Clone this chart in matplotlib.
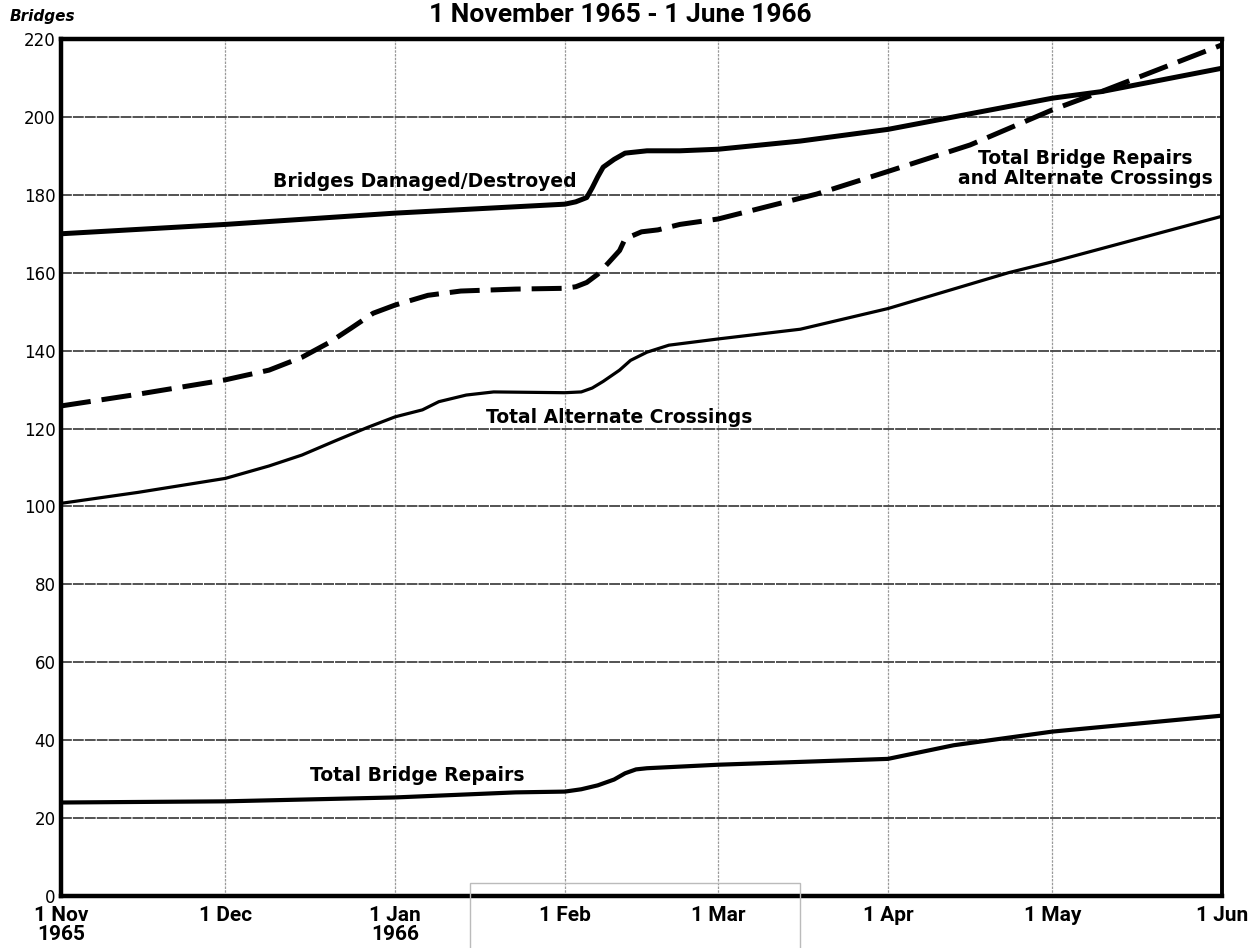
import matplotlib
matplotlib.use("Agg")
import matplotlib.pyplot as plt
from matplotlib.patches import Rectangle
import pandas as pd

# ---- data ----
damaged_dates = ["1965-11-01", "1965-12-01", "1966-01-01", "1966-02-01", "1966-02-03",
                 "1966-02-05", "1966-02-06", "1966-02-07", "1966-02-08", "1966-02-10",
                 "1966-02-12", "1966-02-16", "1966-02-22", "1966-03-01", "1966-03-16",
                 "1966-04-01", "1966-04-16", "1966-05-01", "1966-05-10", "1966-06-01"]
damaged_vals = [170, 172.4, 175.3, 177.6, 178.2, 179.3, 181.8, 184.6, 187.1, 189.1,
                190.7, 191.3, 191.3, 191.7, 193.8, 196.8, 200.8, 204.8, 206.5, 212.5]

combined_dates = ["1965-11-01", "1965-11-15", "1965-12-01", "1965-12-09", "1965-12-15",
                  "1965-12-20", "1965-12-24", "1965-12-28", "1966-01-01", "1966-01-07",
                  "1966-01-13", "1966-01-23", "1966-02-01", "1966-02-03", "1966-02-05",
                  "1966-02-07", "1966-02-09", "1966-02-11", "1966-02-12", "1966-02-15",
                  "1966-02-18", "1966-02-22", "1966-03-01", "1966-03-19", "1966-04-01",
                  "1966-04-16", "1966-05-01", "1966-05-10", "1966-06-01"]
combined_vals = [125.8, 128.8, 132.5, 135, 138.3, 142.1, 145.8, 149.6, 151.7, 154.2,
                 155.3, 155.8, 156, 156.4, 157.5, 159.6, 162.6, 165.7, 168.7, 170.5,
                 171, 172.4, 173.8, 180.2, 186, 192.8, 201.8, 206.5, 218.5]

crossings_dates = ["1965-11-01", "1965-11-15", "1965-12-01", "1965-12-09", "1965-12-15",
                   "1965-12-21", "1965-12-27", "1966-01-01", "1966-01-06", "1966-01-09",
                   "1966-01-14", "1966-01-19", "1966-02-01", "1966-02-04", "1966-02-06",
                   "1966-02-08", "1966-02-11", "1966-02-13", "1966-02-16", "1966-02-20",
                   "1966-03-01", "1966-03-16", "1966-04-01", "1966-04-23", "1966-05-01",
                   "1966-06-01"]
crossings_vals = [100.8, 103.6, 107.2, 110.4, 113.2, 116.8, 120.3, 123, 124.8, 126.9,
                  128.6, 129.4, 129.2, 129.4, 130.4, 132.1, 135, 137.5, 139.6, 141.4,
                  143, 145.5, 150.8, 160, 162.8, 174.5]

repairs_dates = ["1965-11-01", "1965-12-01", "1966-01-01", "1966-01-23", "1966-02-01",
                 "1966-02-04", "1966-02-07", "1966-02-10", "1966-02-12", "1966-02-14",
                 "1966-02-16", "1966-03-01", "1966-04-01", "1966-04-13", "1966-05-01",
                 "1966-06-01"]
repairs_vals = [24, 24.3, 25.3, 26.6, 26.8, 27.4, 28.4, 29.9, 31.5, 32.5,
                32.8, 33.7, 35.2, 38.7, 42.2, 46.3]

tick_dates = ["1965-11-01", "1965-12-01", "1966-01-01", "1966-02-01", "1966-03-01",
              "1966-04-01", "1966-05-01", "1966-06-01"]
tick_labels = ["1 Nov\n1965", "1 Dec", "1 Jan\n1966", "1 Feb", "1 Mar",
               "1 Apr", "1 May", "1 Jun"]
y_ticks = list(range(0, 221, 20))

title = "1 November 1965 - 1 June 1966"
y_label = "Bridges"

# ---- figure ----
fig = plt.figure(figsize=(12.57, 9.48), dpi=100)
ax = fig.add_axes([61 / 1257, 1 - 896 / 948, (1222 - 61) / 1257, (896 - 39) / 948])

cond = ["Roboto", "DejaVu Sans"]
lab = ["DejaVu Sans"]

ax.plot(pd.to_datetime(damaged_dates), damaged_vals, color="black", lw=3.6,
        solid_joinstyle="round", zorder=3)
ax.plot(pd.to_datetime(combined_dates), combined_vals, color="black", lw=3.6,
        dashes=(6, 2.2), dash_joinstyle="round", zorder=3)
ax.plot(pd.to_datetime(crossings_dates), crossings_vals, color="black", lw=2.3,
        solid_joinstyle="round", zorder=3)
ax.plot(pd.to_datetime(repairs_dates), repairs_vals, color="black", lw=3.0,
        solid_joinstyle="round", zorder=3)

ax.set_xlim(pd.Timestamp("1965-11-01"), pd.Timestamp("1966-06-01"))
ax.set_ylim(0, 220)

ax.set_xticks(pd.to_datetime(tick_dates))
ax.set_xticklabels(tick_labels, fontfamily=cond, fontsize=15, fontweight="bold",
                   linespacing=1.0)
ax.set_yticks(y_ticks)
ax.set_yticklabels([str(v) for v in y_ticks], fontfamily=lab, fontsize=12)
ax.tick_params(axis="both", length=0, colors="black")
ax.tick_params(axis="x", pad=7)
ax.tick_params(axis="y", pad=4)

ax.grid(axis="y", color="#444444", lw=1.3, ls=(0, (6, 0.6)))
ax.grid(axis="x", color="#9a9a9a", lw=0.9, ls=(0, (2, 1)))
ax.set_axisbelow(True)

for s in ["left", "bottom", "top"]:
    ax.spines[s].set_linewidth(3.2)
ax.spines["right"].set_linewidth(2.8)

# labels on the chart
kw = dict(fontfamily=lab, fontweight="bold", fontsize=13.5, color="black", zorder=4)
ax.text(pd.Timestamp("1966-01-06 12:00"), 183.5, "Bridges Damaged/Destroyed",
        ha="center", va="center", **kw)
ax.text(pd.Timestamp("1966-05-07"), 186.8, "Total Bridge Repairs\nand Alternate Crossings",
        ha="center", va="center", linespacing=1.05, **kw)
ax.text(pd.Timestamp("1966-02-11"), 122.8, "Total Alternate Crossings",
        ha="center", va="center", **kw)
ax.text(pd.Timestamp("1966-01-05"), 31.0, "Total Bridge Repairs",
        ha="center", va="center", **kw)

fig.text(620 / 1257, 1 - 22 / 948, title, ha="center", va="baseline",
         fontfamily=cond, fontweight="bold", fontsize=19)
fig.text(10 / 1257, 1 - 16 / 948, y_label, ha="left", va="center",
         fontfamily=lab, fontweight="bold", fontstyle="italic", fontsize=11)

# faint scan box at bottom
fig.patches.append(Rectangle((470 / 1257, -0.01), 330 / 1257, 1 - 883 / 948 + 0.01,
                             transform=fig.transFigure, fill=False,
                             edgecolor="#bbbbbb", lw=1))

fig.savefig("out.png", dpi=100)
